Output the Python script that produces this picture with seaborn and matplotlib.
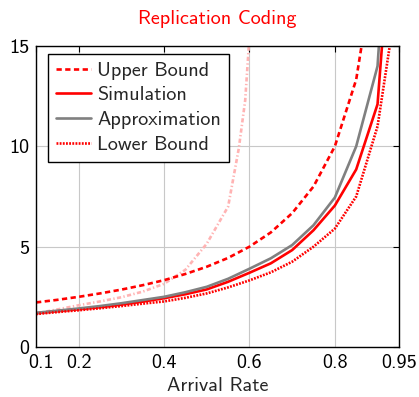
import matplotlib
matplotlib.use("Agg")
import matplotlib.pyplot as plt
import matplotlib.transforms as mtransforms
import seaborn as sns
import pandas as pd

# values
rate = [0.1, 0.15, 0.2, 0.25, 0.3, 0.35, 0.4, 0.45, 0.5, 0.55,
        0.6, 0.65, 0.7, 0.75, 0.8, 0.85, 0.9, 0.95]
upper_bound = [2.22, 2.35, 2.50, 2.67, 2.86, 3.08, 3.33, 3.64, 4.00, 4.44,
               5.00, 5.71, 6.67, 8.00, 10.00, 13.33, 20.00, 40.00]
simulation = [1.68, 1.78, 1.88, 1.98, 2.11, 2.26, 2.43, 2.63, 2.87, 3.25,
              3.70, 4.17, 4.83, 5.82, 7.05, 8.85, 12.10, 26.00]
approximation = [1.70, 1.81, 1.92, 2.04, 2.18, 2.34, 2.50, 2.73, 3.00, 3.40,
                 3.90, 4.42, 5.08, 6.07, 7.45, 10.00, 14.00, 30.00]
lower_bound = [1.64, 1.74, 1.83, 1.93, 2.04, 2.16, 2.27, 2.45, 2.67, 2.97,
               3.32, 3.72, 4.25, 5.00, 5.90, 7.50, 11.00, 18.00]

# light dash-dot curve (not in legend)
extra_rate = [0.1, 0.15, 0.2, 0.25, 0.3, 0.35, 0.4, 0.45, 0.5, 0.55,
              0.575, 0.59, 0.6]
extra_curve = [1.68, 1.87, 2.08, 2.27, 2.48, 2.76, 3.15, 3.85, 5.15, 7.00,
               9.90, 12.30, 15.50]

xticks = [0.1, 0.2, 0.4, 0.6, 0.8, 0.95]
xtick_labels = ["0.1", "0.2", "0.4", "0.6", "0.8", "0.95"]
yticks = [0, 5, 10, 15]

sns.set_style("white")
plt.rcParams["font.family"] = ["cmss10", "DejaVu Sans"]
plt.rcParams["axes.unicode_minus"] = False
plt.rcParams["mathtext.fontset"] = "cm"

RED = "#ff0000"
GRAY = "#808080"
PINK = "#ffb3b3"
LW = 1.9
FS = 14.5

fig = plt.figure(figsize=(4.19, 3.97), dpi=100)
ax = fig.add_axes([0.086, 0.126, 0.866, 0.758])

df_extra = pd.DataFrame({"rate": extra_rate, "val": extra_curve})
sns.lineplot(data=df_extra, x="rate", y="val", ax=ax, color=PINK, lw=LW,
             linestyle=(0, (1.6, 0.9, 0.5, 0.9)), legend=False)

df = pd.DataFrame({"rate": rate, "upper": upper_bound, "sim": simulation,
                   "approx": approximation, "lower": lower_bound})

sns.lineplot(data=df, x="rate", y="upper", ax=ax, color=RED, lw=LW,
             linestyle=(0, (2.0, 1.3)), label="Upper Bound")
sns.lineplot(data=df, x="rate", y="sim", ax=ax, color=RED, lw=LW,
             linestyle="-", label="Simulation")
sns.lineplot(data=df, x="rate", y="approx", ax=ax, color=GRAY, lw=LW,
             linestyle="-", label="Approximation")
sns.lineplot(data=df, x="rate", y="lower", ax=ax, color=RED, lw=LW,
             linestyle=(0, (0.7, 0.5)), label="Lower Bound")

ax.set_xlim(0.1, 0.95)
ax.set_ylim(0, 15)
ax.set_xticks(xticks)
ax.set_xticklabels(xtick_labels)
ax.set_yticks(yticks)
ax.set_yticklabels([str(v) for v in yticks])
ax.grid(True, color="#c8c8c8", lw=0.8)
ax.tick_params(direction="in", length=4, width=0.8, top=True, right=True,
               labelsize=FS, colors="black")
ax.tick_params(axis="x", pad=5)
ax.tick_params(axis="y", pad=5)
# nudge the first x label right, as in the reference
first = ax.get_xticklabels()[0]
first.set_transform(first.get_transform() +
                    mtransforms.ScaledTranslation(5 / 100, 0, fig.dpi_scale_trans))
for s in ax.spines.values():
    s.set_color("black")
    s.set_linewidth(1.0)

ax.set_xlabel("Arrival Rate", fontsize=FS, labelpad=4)
ax.set_ylabel("")
ax.set_title("Replication Coding", color=RED, fontsize=FS, pad=16)

leg = ax.legend(loc="upper left", bbox_to_anchor=(0.033, 0.975), fontsize=FS,
                frameon=True, fancybox=False, edgecolor="black",
                framealpha=1, handlelength=1.75, handletextpad=0.3,
                labelspacing=0.33, borderpad=0.4, borderaxespad=0.0)
leg.get_frame().set_linewidth(1.0)

fig.savefig("out.png", dpi=100)
